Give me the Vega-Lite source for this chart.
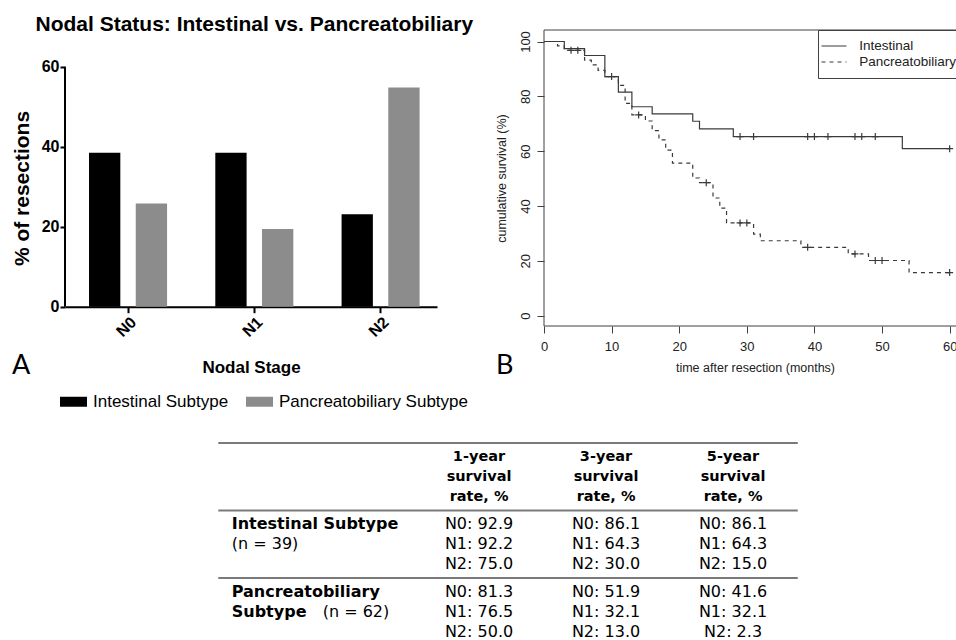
{
  "$schema": "https://vega.github.io/schema/vega-lite/v6.json",
  "background": "white",
  "padding": {"left": 11, "top": 13, "right": -10, "bottom": -5},
  "config": {
    "font": "Liberation Sans",
    "view": {"stroke": null},
    "axis": {"labelFont": "Liberation Sans", "titleFont": "Liberation Sans", "grid": false},
    "legend": {"labelFont": "Liberation Sans"}
  },
  "datasets": {
    "bars": [
      {"stage": "N0", "subtype": "Intestinal Subtype", "pct": 38.5},
      {"stage": "N0", "subtype": "Pancreatobiliary Subtype", "pct": 25.8},
      {"stage": "N1", "subtype": "Intestinal Subtype", "pct": 38.5},
      {"stage": "N1", "subtype": "Pancreatobiliary Subtype", "pct": 19.4},
      {"stage": "N2", "subtype": "Intestinal Subtype", "pct": 23.1},
      {"stage": "N2", "subtype": "Pancreatobiliary Subtype", "pct": 54.8}
    ],
    "km": [
      {"group": "Intestinal", "t": 0, "s": 100},
      {"group": "Intestinal", "t": 3, "s": 97.4},
      {"group": "Intestinal", "t": 6, "s": 94.9},
      {"group": "Intestinal", "t": 9, "s": 87.2},
      {"group": "Intestinal", "t": 11, "s": 81.5},
      {"group": "Intestinal", "t": 13, "s": 76.2},
      {"group": "Intestinal", "t": 16, "s": 73.6},
      {"group": "Intestinal", "t": 22, "s": 70.9},
      {"group": "Intestinal", "t": 23, "s": 68.1},
      {"group": "Intestinal", "t": 28, "s": 65.3},
      {"group": "Intestinal", "t": 53, "s": 60.9},
      {"group": "Intestinal", "t": 60, "s": 60.9},
      {"group": "Pancreatobiliary", "t": 0, "s": 100},
      {"group": "Pancreatobiliary", "t": 2, "s": 98.4},
      {"group": "Pancreatobiliary", "t": 3, "s": 96.8},
      {"group": "Pancreatobiliary", "t": 6, "s": 93.2},
      {"group": "Pancreatobiliary", "t": 7, "s": 91.5},
      {"group": "Pancreatobiliary", "t": 8, "s": 89.5},
      {"group": "Pancreatobiliary", "t": 9, "s": 87.2},
      {"group": "Pancreatobiliary", "t": 11, "s": 84.0},
      {"group": "Pancreatobiliary", "t": 12, "s": 77.4},
      {"group": "Pancreatobiliary", "t": 13, "s": 73.2},
      {"group": "Pancreatobiliary", "t": 15, "s": 71.0},
      {"group": "Pancreatobiliary", "t": 16, "s": 67.5},
      {"group": "Pancreatobiliary", "t": 17, "s": 64.1},
      {"group": "Pancreatobiliary", "t": 18, "s": 60.4},
      {"group": "Pancreatobiliary", "t": 19, "s": 55.6},
      {"group": "Pancreatobiliary", "t": 22, "s": 50.2},
      {"group": "Pancreatobiliary", "t": 23, "s": 48.5},
      {"group": "Pancreatobiliary", "t": 25, "s": 42.9},
      {"group": "Pancreatobiliary", "t": 26, "s": 39.2},
      {"group": "Pancreatobiliary", "t": 27, "s": 33.8},
      {"group": "Pancreatobiliary", "t": 31, "s": 29.7},
      {"group": "Pancreatobiliary", "t": 32, "s": 27.3},
      {"group": "Pancreatobiliary", "t": 38, "s": 24.9},
      {"group": "Pancreatobiliary", "t": 45, "s": 22.5},
      {"group": "Pancreatobiliary", "t": 48, "s": 20.1},
      {"group": "Pancreatobiliary", "t": 54, "s": 15.7},
      {"group": "Pancreatobiliary", "t": 60, "s": 15.7}
    ],
    "censor": [
      {"group": "Intestinal", "t": 10, "s": 87.2},
      {"group": "Intestinal", "t": 29, "s": 65.3},
      {"group": "Intestinal", "t": 31, "s": 65.3},
      {"group": "Intestinal", "t": 39, "s": 65.3},
      {"group": "Intestinal", "t": 40, "s": 65.3},
      {"group": "Intestinal", "t": 42, "s": 65.3},
      {"group": "Intestinal", "t": 46, "s": 65.3},
      {"group": "Intestinal", "t": 47, "s": 65.3},
      {"group": "Intestinal", "t": 49, "s": 65.3},
      {"group": "Intestinal", "t": 60, "s": 60.9},
      {"group": "Pancreatobiliary", "t": 4, "s": 96.8},
      {"group": "Pancreatobiliary", "t": 5, "s": 96.8},
      {"group": "Pancreatobiliary", "t": 14, "s": 73.2},
      {"group": "Pancreatobiliary", "t": 24, "s": 48.5},
      {"group": "Pancreatobiliary", "t": 29, "s": 33.8},
      {"group": "Pancreatobiliary", "t": 30, "s": 33.8},
      {"group": "Pancreatobiliary", "t": 39, "s": 24.9},
      {"group": "Pancreatobiliary", "t": 46, "s": 22.5},
      {"group": "Pancreatobiliary", "t": 49, "s": 20.1},
      {"group": "Pancreatobiliary", "t": 50, "s": 20.1},
      {"group": "Pancreatobiliary", "t": 60, "s": 15.7}
    ],
    "cells": [
      {"g": "header", "line": 1, "col": 1, "text": "1-year"},
      {"g": "header", "line": 1, "col": 2, "text": "3-year"},
      {"g": "header", "line": 1, "col": 3, "text": "5-year"},
      {"g": "header", "line": 2, "col": 1, "text": "survival"},
      {"g": "header", "line": 2, "col": 2, "text": "survival"},
      {"g": "header", "line": 2, "col": 3, "text": "survival"},
      {"g": "header", "line": 3, "col": 1, "text": "rate, %"},
      {"g": "header", "line": 3, "col": 2, "text": "rate, %"},
      {"g": "header", "line": 3, "col": 3, "text": "rate, %"},
      {"g": "int", "line": 1, "col": 1, "text": "N0: 92.9"},
      {"g": "int", "line": 1, "col": 2, "text": "N0: 86.1"},
      {"g": "int", "line": 1, "col": 3, "text": "N0: 86.1"},
      {"g": "int", "line": 2, "col": 1, "text": "N1: 92.2"},
      {"g": "int", "line": 2, "col": 2, "text": "N1: 64.3"},
      {"g": "int", "line": 2, "col": 3, "text": "N1: 64.3"},
      {"g": "int", "line": 3, "col": 1, "text": "N2: 75.0"},
      {"g": "int", "line": 3, "col": 2, "text": "N2: 30.0"},
      {"g": "int", "line": 3, "col": 3, "text": "N2: 15.0"},
      {"g": "panc", "line": 1, "col": 1, "text": "N0: 81.3"},
      {"g": "panc", "line": 1, "col": 2, "text": "N0: 51.9"},
      {"g": "panc", "line": 1, "col": 3, "text": "N0: 41.6"},
      {"g": "panc", "line": 2, "col": 1, "text": "N1: 76.5"},
      {"g": "panc", "line": 2, "col": 2, "text": "N1: 32.1"},
      {"g": "panc", "line": 2, "col": 3, "text": "N1: 32.1"},
      {"g": "panc", "line": 3, "col": 1, "text": "N2: 50.0"},
      {"g": "panc", "line": 3, "col": 2, "text": "N2: 13.0"},
      {"g": "panc", "line": 3, "col": 3, "text": "N2: 2.3"}
    ],
    "labels": [
      {"g": "int", "line": 1, "bold": "Intestinal Subtype"},
      {"g": "int", "line": 2, "plain": "(n = 39)"},
      {"g": "panc", "line": 1, "bold": "Pancreatobiliary"},
      {"g": "panc", "line": 2, "bold": "Subtype", "note": "(n = 62)"}
    ],
    "rules": [
      {"g": "header"},
      {"g": "int"},
      {"g": "panc"}
    ]
  },
  "resolve": {"legend": {"color": "independent", "strokeDash": "independent"}},
  "spacing": 32,
  "vconcat": [
    {
      "concat": [
        {
          "width": 372,
          "height": 276.7,
          "layer": [
            {
              "data": {"name": "bars"},
              "mark": {"type": "bar"},
              "encoding": {
                "x": {
                  "field": "stage", "type": "nominal", "sort": ["N0", "N1", "N2"],
                  "scale": {"paddingInner": 0.382, "paddingOuter": 0.164, "align": 0.58},
                  "axis": {
                    "title": "Nodal Stage", "titleFontSize": 17, "titleFontWeight": "bold", "titleColor": "#000000", "titlePadding": 20,
                    "labelAngle": -45, "labelFontSize": 16, "labelFontWeight": "bold", "labelColor": "#000000", "labelPadding": 1,
                    "tickSize": 6, "tickWidth": 2, "tickColor": "#000000", "domainColor": "#000000", "domainWidth": 2
                  }
                },
                "xOffset": {"field": "subtype", "type": "nominal", "scale": {"paddingInner": 0.33, "paddingOuter": 0}},
                "y": {
                  "field": "pct", "type": "quantitative",
                  "scale": {"domain": [0, 69.17], "nice": false},
                  "axis": {
                    "title": "% of resections", "titleFontSize": 21, "titleFontWeight": "bold", "titleColor": "#000000", "titlePadding": 9, "titleY": 158,
                    "values": [0, 20, 40, 60], "labelFontSize": 16, "labelFontWeight": "bold", "labelColor": "#000000", "labelPadding": 1,
                    "tickSize": 5, "tickWidth": 2, "tickColor": "#000000", "domain": false
                  }
                },
                "color": {
                  "field": "subtype", "type": "nominal",
                  "scale": {"domain": ["Intestinal Subtype", "Pancreatobiliary Subtype"], "range": ["#000000", "#8c8c8c"]},
                  "legend": {
                    "orient": "bottom", "direction": "horizontal", "title": null,
                    "symbolType": "M-1,-0.37H1V0.37H-1Z", "symbolSize": 729, "symbolStrokeWidth": 0, "symbolOffset": -5,
                    "labelFontSize": 17, "labelColor": "#000000", "labelOffset": 6, "labelLimit": 400, "columnPadding": 17, "offset": 12
                  }
                }
              }
            },
            {
              "data": {"values": [{"from": 0, "to": 60}]},
              "mark": {"type": "rule", "color": "#000000", "strokeWidth": 2},
              "encoding": {
                "x": {"value": 0},
                "y": {"field": "from", "type": "quantitative"},
                "y2": {"field": "to"}
              }
            },
            {
              "data": {"values": [{"heading": "Nodal Status: Intestinal vs. Pancreatobiliary"}]},
              "mark": {"type": "text", "fontSize": 21, "fontWeight": "bold", "align": "center", "baseline": "alphabetic", "color": "#000000"},
              "encoding": {
                "x": {"datum": "N1"},
                "y": {"datum": 69.0},
                "text": {"field": "heading"}
              }
            },
            {
              "data": {"values": [{"panel": "A"}]},
              "mark": {"type": "text", "font": "Lato", "fontSize": 27, "align": "left", "baseline": "alphabetic", "dx": -77, "color": "#000000"},
              "encoding": {
                "x": {"datum": "N0", "bandPosition": 0},
                "y": {"datum": -16.8},
                "text": {"field": "panel"}
              }
            }
          ]
        },
        {
          "width": 422,
          "height": 296,
          "layer": [
            {
              "data": {"values": [{"frame": "plot"}]},
              "mark": {"type": "rect", "filled": false, "stroke": "#404040", "strokeWidth": 1},
              "encoding": {}
            },
            {
              "data": {"name": "km"},
              "mark": {"type": "line", "interpolate": "step-after", "color": "#3a3a3a", "strokeWidth": 1.2},
              "encoding": {
                "x": {
                  "field": "t", "type": "quantitative",
                  "scale": {"domain": [0, 62.42], "nice": false, "zero": false},
                  "axis": {
                    "title": "time after resection (months)", "values": [0, 10, 20, 30, 40, 50, 60], "format": "d",
                    "labelFlush": false, "labelOverlap": false, "domain": false,
                    "tickSize": 7, "tickColor": "#404040", "tickWidth": 1,
                    "labelFontSize": 13, "labelColor": "#222222", "labelPadding": 7,
                    "titleFontSize": 12.5, "titleFontWeight": "normal", "titleColor": "#222222", "titlePadding": 8
                  }
                },
                "y": {
                  "field": "s", "type": "quantitative",
                  "scale": {"domain": [-3.8, 104.2], "nice": false, "zero": false},
                  "axis": {
                    "title": "cumulative survival (%)", "values": [0, 20, 40, 60, 80, 100],
                    "labelAngle": 270, "labelAlign": "center", "labelBaseline": "bottom", "labelOverlap": false, "domain": false,
                    "tickSize": 7, "tickColor": "#404040", "tickWidth": 1,
                    "labelFontSize": 13, "labelColor": "#222222", "labelPadding": 5,
                    "titleFontSize": 12.5, "titleFontWeight": "normal", "titleColor": "#222222", "titlePadding": 11
                  }
                },
                "strokeDash": {
                  "field": "group", "type": "nominal",
                  "scale": {"domain": ["Intestinal", "Pancreatobiliary"], "range": [[1, 0], [4, 4]]},
                  "legend": {
                    "orient": "top-right", "offset": 0, "title": null,
                    "strokeColor": "#404040", "fillColor": "#ffffff", "padding": 9,
                    "symbolType": "M-2,0H2", "symbolSize": 156.25, "symbolStrokeWidth": 1.2, "symbolStrokeColor": "#3a3a3a",
                    "labelFontSize": 13.5, "labelColor": "#222222", "labelOffset": 18.25, "rowPadding": 2
                  }
                }
              }
            },
            {
              "data": {"name": "censor"},
              "mark": {"type": "point", "shape": "M-1,0H1M0,-1V1", "size": 49, "filled": false, "strokeWidth": 1.2, "color": "#3a3a3a", "opacity": 1},
              "encoding": {
                "x": {"field": "t", "type": "quantitative"},
                "y": {"field": "s", "type": "quantitative"}
              }
            },
            {
              "data": {"values": [{"panel": "B"}]},
              "mark": {"type": "text", "font": "Lato", "fontSize": 27, "align": "left", "baseline": "alphabetic", "color": "#000000"},
              "encoding": {
                "x": {"datum": -7.1},
                "y": {"datum": -21.3},
                "text": {"field": "panel"}
              }
            }
          ]
        }
      ],
      "columns": 2,
      "align": "none",
      "spacing": 20,
      "resolve": {"legend": {"color": "independent", "strokeDash": "independent"}}
    },
    {
      "width": 889,
      "height": 202.5,
      "layer": [
        {
          "data": {"name": "rules"},
          "mark": {"type": "rule", "color": "#7a7a7a", "strokeWidth": 2},
          "encoding": {
            "y": {"field": "g", "type": "nominal", "bandPosition": 0, "scale": {"domain": ["header", "int", "panc"], "paddingInner": 0, "paddingOuter": 0}, "axis": null},
            "x": {"datum": -1.053, "scale": {"domain": [-2.26, 4.74], "nice": false, "zero": false}, "axis": null},
            "x2": {"datum": 3.51}
          }
        },
        {
          "data": {"name": "cells"},
          "transform": [{"filter": "datum.g == 'header'"}],
          "mark": {"type": "text", "font": "DejaVu Sans", "fontWeight": "bold", "fontSize": 14.5, "align": "center", "baseline": "middle", "color": "#000000"},
          "encoding": {
            "x": {"field": "col", "type": "quantitative"},
            "y": {"field": "g", "type": "nominal"},
            "yOffset": {"field": "line", "type": "ordinal", "scale": {"type": "point", "domain": [1, 2, 3], "padding": 0.6875}},
            "text": {"field": "text"}
          }
        },
        {
          "data": {"name": "cells"},
          "transform": [{"filter": "datum.g != 'header'"}],
          "mark": {"type": "text", "font": "DejaVu Sans", "fontSize": 16, "align": "center", "baseline": "middle", "color": "#000000"},
          "encoding": {
            "x": {"field": "col", "type": "quantitative"},
            "y": {"field": "g", "type": "nominal"},
            "yOffset": {"field": "line", "type": "ordinal"},
            "text": {"field": "text"}
          }
        },
        {
          "data": {"name": "labels"},
          "transform": [{"filter": "datum.bold"}],
          "mark": {"type": "text", "font": "DejaVu Sans", "fontWeight": "bold", "fontSize": 16, "align": "left", "baseline": "middle", "color": "#000000"},
          "encoding": {
            "x": {"datum": -0.947},
            "y": {"field": "g", "type": "nominal"},
            "yOffset": {"field": "line", "type": "ordinal"},
            "text": {"field": "bold"}
          }
        },
        {
          "data": {"name": "labels"},
          "transform": [{"filter": "datum.plain"}],
          "mark": {"type": "text", "font": "DejaVu Sans", "fontSize": 16, "align": "left", "baseline": "middle", "color": "#000000"},
          "encoding": {
            "x": {"datum": -0.947},
            "y": {"field": "g", "type": "nominal"},
            "yOffset": {"field": "line", "type": "ordinal"},
            "text": {"field": "plain"}
          }
        },
        {
          "data": {"name": "labels"},
          "transform": [{"filter": "datum.note"}],
          "mark": {"type": "text", "font": "DejaVu Sans", "fontSize": 16, "align": "left", "baseline": "middle", "color": "#000000"},
          "encoding": {
            "x": {"datum": -0.231},
            "y": {"field": "g", "type": "nominal"},
            "yOffset": {"field": "line", "type": "ordinal"},
            "text": {"field": "note"}
          }
        }
      ]
    }
  ]
}
